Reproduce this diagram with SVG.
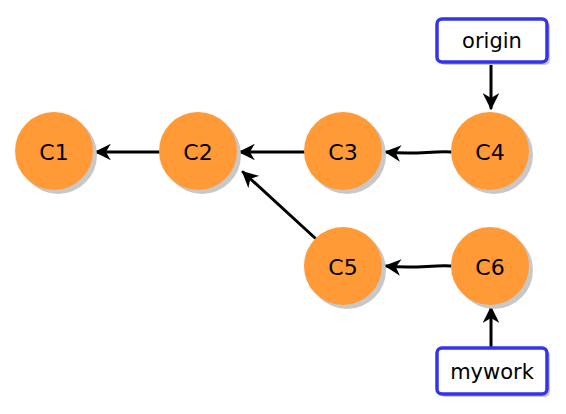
<svg xmlns="http://www.w3.org/2000/svg" width="566" height="414" viewBox="0 0 566 414">
<style>
.c{fill:#FF9A36;}
.sh{fill:#C8C8C8;}
.t{font-family:"DejaVu Sans","Noto Sans",sans-serif;font-size:22px;fill:#000;text-anchor:middle;dominant-baseline:central;}
.lt{font-family:"DejaVu Sans","Noto Sans",sans-serif;font-size:21px;fill:#000;text-anchor:middle;dominant-baseline:central;}
.box{fill:#fff;stroke:#3333EE;stroke-width:3.5;}
.bsh{fill:#C8C8C8;}
.e{fill:none;stroke:#000;stroke-width:3;stroke-linecap:round;marker-end:url(#ah);}
</style>
<defs>
<marker id="ah" viewBox="0 0 10 10" refX="9" refY="5" markerWidth="5.5" markerHeight="5.5" orient="auto" markerUnits="strokeWidth">
<path d="M0,0 L10,5 L0,10 L3,5 Z" fill="#000"/>
</marker>
</defs>
<g id="connectors">
<path class="e" d="M159,152 L96,152"/>
<path class="e" d="M304,152 L240,152"/>
<path class="e" d="M315,238 L243,172"/>
<path class="e" d="M451,152 C430,151 415,155 386,152"/>
<path class="e" d="M451,266 C430,265 415,269 386,266"/>
<path class="e" d="M491,64 L491,108"/>
<path class="e" d="M491,347 L491,308"/>
</g>
<g id="C1"><circle class="sh" cx="58" cy="155" r="39"/><circle class="c" cx="54" cy="151" r="39"/><text class="t" x="54" y="152">C1</text></g>
<g id="C2"><circle class="sh" cx="202" cy="155" r="39"/><circle class="c" cx="198" cy="151" r="39"/><text class="t" x="198" y="152">C2</text></g>
<g id="C3"><circle class="sh" cx="347" cy="155" r="39"/><circle class="c" cx="343" cy="151" r="39"/><text class="t" x="343" y="152">C3</text></g>
<g id="C4"><circle class="sh" cx="494" cy="155" r="39"/><circle class="c" cx="490" cy="151" r="39"/><text class="t" x="490" y="152">C4</text></g>
<g id="C5"><circle class="sh" cx="347" cy="270" r="39"/><circle class="c" cx="343" cy="266" r="39"/><text class="t" x="343" y="267">C5</text></g>
<g id="C6"><circle class="sh" cx="494" cy="270" r="39"/><circle class="c" cx="490" cy="266" r="39"/><text class="t" x="490" y="267">C6</text></g>
<g id="origin"><rect class="bsh" x="440" y="22" width="110" height="43" rx="5"/><rect class="box" x="437" y="19" width="110" height="43" rx="5"/><text class="lt" x="492" y="41">origin</text></g>
<g id="mywork"><rect class="bsh" x="440" y="351" width="110" height="46" rx="5"/><rect class="box" x="437" y="348" width="110" height="46" rx="5"/><text class="lt" x="492" y="372">mywork</text></g>
</svg>
